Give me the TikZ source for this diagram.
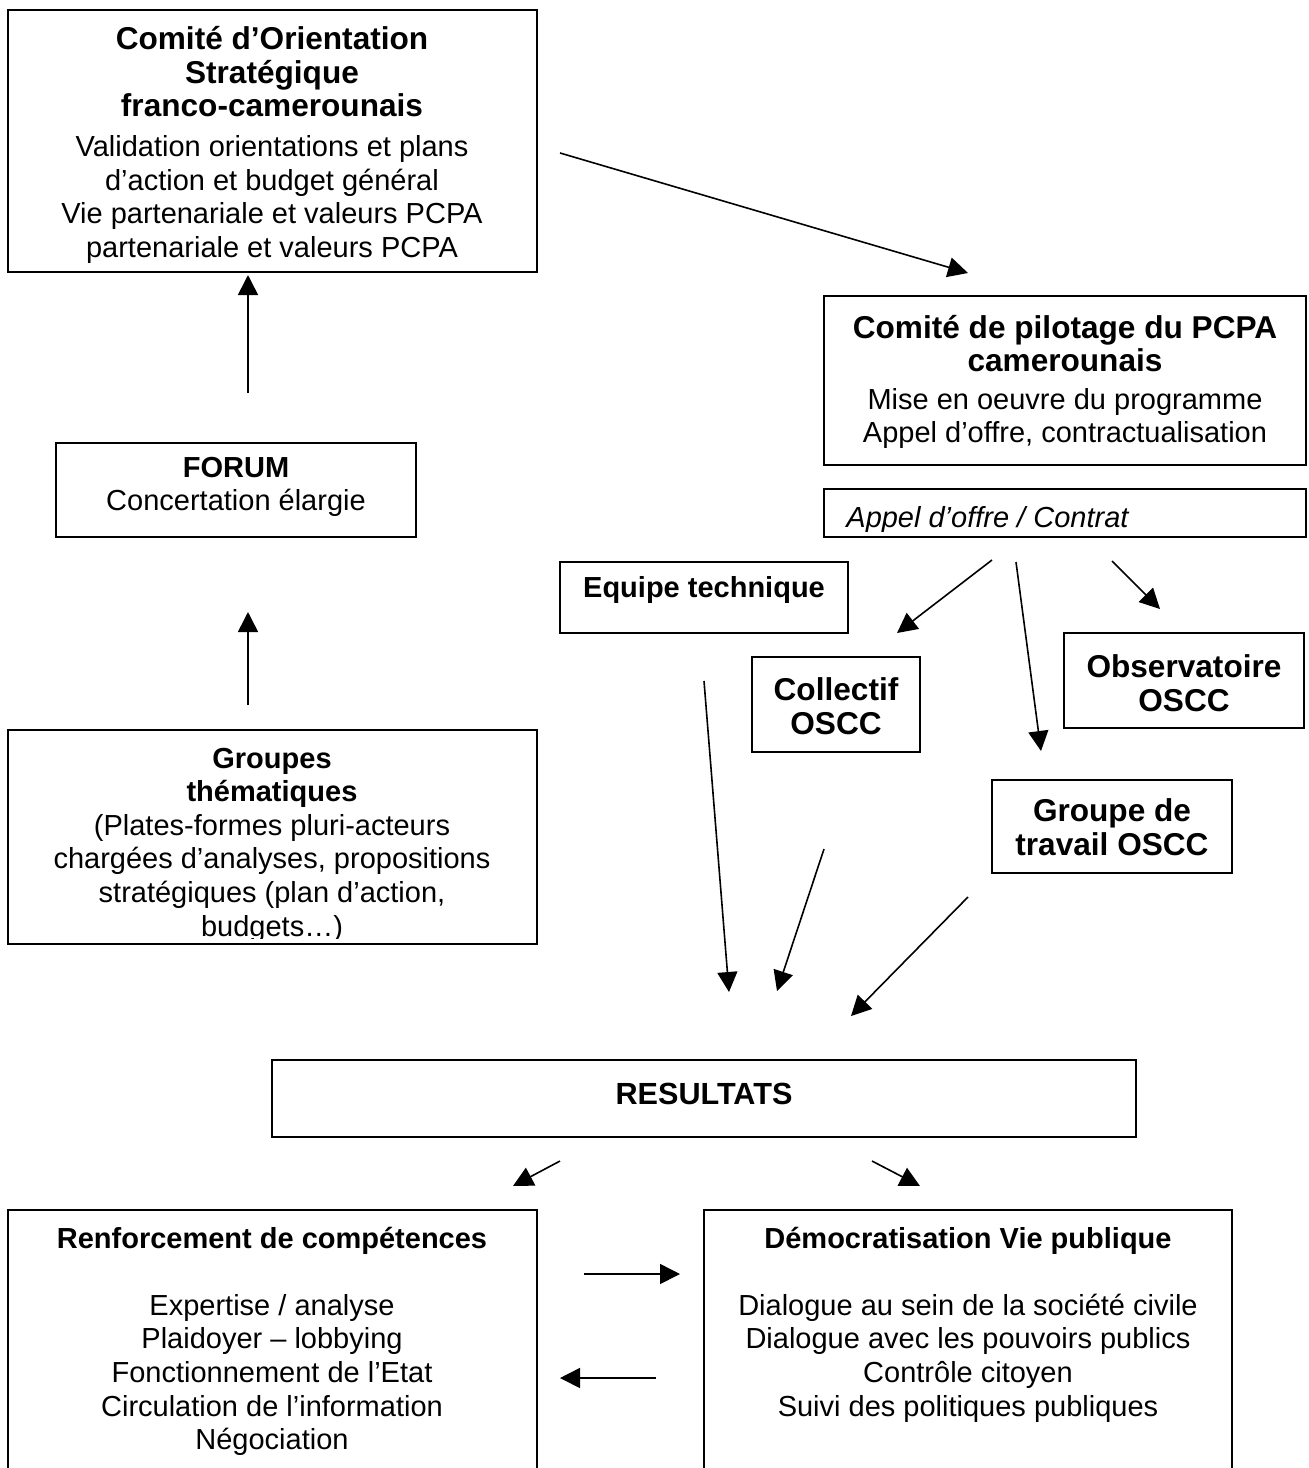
\documentclass[tikz,border=0pt]{standalone}
\usepackage{fontspec}
\setmainfont{Liberation Sans}
\usetikzlibrary{arrows.meta,fit}
\newcommand{\bigb}[1]{{\fontsize{15.8}{16.8}\selectfont\bfseries #1}}
\begin{document}
\begin{tikzpicture}[x=0.5pt,y=-0.5pt,
  box/.style={draw, line width=0.9pt, inner sep=0pt},
  txt/.style={align=center, inner sep=0pt, font=\fontsize{14.5}{16.8}\selectfont},
  arr/.style={line width=0.8pt, -{Triangle[length=10pt,width=10pt]}}]
\useasboundingbox (0,0) rectangle (1309,1468);
\clip (0,0) rectangle (1309,1468);

% ---------- boxes ----------
\node[box, fit={(8,10) (537,272)}] (cos) {};
\node[txt] (cos-t) at (272,145) {\bigb{Comité d’Orientation}\\\bigb{Stratégique}\\\bigb{franco-camerounais}\\[3pt]
  Validation orientations et plans\\d’action et budget général\\Vie partenariale et valeurs PCPA\\partenariale et valeurs PCPA};

\node[box, fit={(824,296) (1306,465)}] (pil) {};
\node[txt] (pil-t) at (1065,382) {\bigb{Comité de pilotage du PCPA}\\\bigb{camerounais}\\[2pt]
  Mise en oeuvre du programme\\Appel d’offre, contractualisation};

\node[box, fit={(824,489) (1306,537)}] (app) {};
\begin{scope}
  \clip (824,489) rectangle (1306,531);
  \node[txt, anchor=base west, font=\fontsize{14.5}{16.8}\selectfont\itshape] (app-t) at (846,527) {Appel d’offre / Contrat};
\end{scope}

\node[box, fit={(56,443) (416,537)}] (for) {};
\node[txt] (for-t) at (236,487) {\textbf{FORUM}\\Concertation élargie};

\node[box, fit={(8,730) (537,944)}] (gt) {};
\begin{scope}
  \clip (8,730) rectangle (537,938);
  \node[txt] (gt-t) at (272,845) {\textbf{Groupes}\\\textbf{thématiques}\\(Plates-formes pluri-acteurs\\chargées d’analyses, propositions\\stratégiques (plan d’action,\\budgets…)};
\end{scope}

\node[box, fit={(560,562) (848,633)}] (eq) {};
\node[txt] (eq-t) at (704,590) {\textbf{Equipe technique}};

\node[box, fit={(752,657) (920,752)}] (col) {};
\node[txt] (col-t) at (836,706) {\bigb{Collectif}\\\bigb{OSCC}};

\node[box, fit={(1064,633) (1304,728)}] (obs) {};
\node[txt] (obs-t) at (1184,683) {\bigb{Observatoire}\\\bigb{OSCC}};

\node[box, fit={(992,780) (1232,873)}] (gdt) {};
\node[txt] (gdt-t) at (1112,827) {\bigb{Groupe de}\\\bigb{travail OSCC}};

\node[box, fit={(272,1060) (1136,1137)}] (res) {};
\node[txt] (res-t) at (704,1094) {{\fontsize{15.3}{16.8}\selectfont\bfseries RESULTATS}};

\node[box, fit={(8,1210) (537,1500)}] (ren) {};
\node[txt] (ren-h) at (272,1241) {\textbf{Renforcement de compétences}};
\node[txt] (ren-t) at (272,1375) {Expertise / analyse\\Plaidoyer – lobbying\\Fonctionnement de l’Etat\\Circulation de l’information\\Négociation};

\node[box, fit={(704,1210) (1232,1500)}] (dem) {};
\node[txt] (dem-h) at (968,1241) {\textbf{Démocratisation Vie publique}};
\node[txt] (dem-t) at (968,1358) {Dialogue au sein de la société civile\\Dialogue avec les pouvoirs publics\\Contrôle citoyen\\Suivi des politiques publiques};

% ---------- connector ends ----------
\coordinate (c1s) at (560,153);  \coordinate (c1e) at (968,273);
\coordinate (c2s) at (248,393);  \coordinate (c2e) at (248,275);
\coordinate (c3s) at (248,705);  \coordinate (c3e) at (248,612);
\coordinate (c4s) at (992,560);  \coordinate (c4e) at (897,633);
\coordinate (c5s) at (1016,562); \coordinate (c5e) at (1041,751);
\coordinate (c6s) at (1112,561); \coordinate (c6e) at (1160,609);
\coordinate (c7s) at (704,681);  \coordinate (c7e) at (729,992);
\coordinate (c8s) at (824,849);  \coordinate (c8e) at (777,991);
\coordinate (c9s) at (968,897);  \coordinate (c9e) at (851,1016);
\coordinate (c10s) at (560,1161); \coordinate (c10e) at (513,1186);
\coordinate (c11s) at (872,1161); \coordinate (c11e) at (920,1186);
\coordinate (c12s) at (584,1274); \coordinate (c12e) at (680,1274);
\coordinate (c13s) at (656,1378); \coordinate (c13e) at (560,1378);

\foreach \i in {1,...,13} \draw[arr] (c\i s) -- (c\i e);
\end{tikzpicture}
\end{document}
